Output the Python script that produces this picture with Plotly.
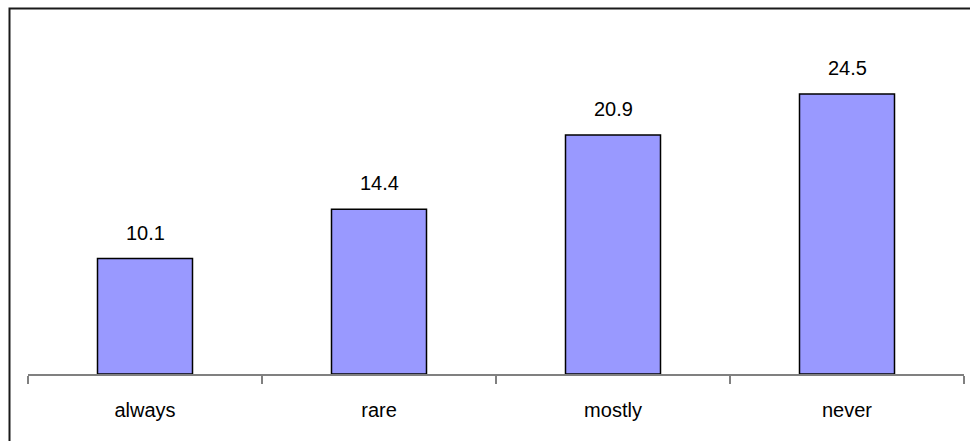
import plotly.graph_objects as go

categories = ["always", "rare", "mostly", "never"]
values = [10.1, 14.4, 20.9, 24.5]
value_labels = ["10.1", "14.4", "20.9", "24.5"]

W, H = 970, 441
ml, mr, mt, mb = 28, 6, 31, 67
FONT = "Liberation Sans, Arial, sans-serif"
FS = 20

fig = go.Figure()
fig.add_trace(go.Bar(
    x=categories, y=values,
    marker=dict(color="#9999FF", line=dict(color="#000000", width=1.5)),
    width=0.406,
    hoverinfo="skip",
))

for c, v, t in zip(categories, values, value_labels):
    fig.add_annotation(x=c, y=v, text=t, showarrow=False, yanchor="bottom",
                       yshift=13, font=dict(family=FONT, size=FS, color="#000000"))

# outer chart border (extends beyond image on right/bottom)
pw = W - ml - mr
ph = H - mt - mb
fig.add_shape(type="rect", xref="paper", yref="paper",
              x0=(9.5 - ml) / pw, x1=(W + 20 - ml) / pw,
              y0=-(H + 20 - (H - mb)) / ph, y1=1 + (mt - 8.5) / ph,
              line=dict(color="#1a1a1a", width=2), layer="above")

fig.update_layout(
    width=W, height=H,
    margin=dict(l=ml, r=mr, t=mt, b=mb, pad=0),
    plot_bgcolor="white", paper_bgcolor="white",
    showlegend=False,
    font=dict(family=FONT, size=FS, color="#000000"),
    xaxis=dict(
        type="category", range=[-0.5, 3.5], tickson="boundaries",
        showline=True, linecolor="#808080", linewidth=1.5,
        ticks="outside", ticklen=8, tickcolor="#808080", tickwidth=1.5,
        showgrid=False, zeroline=False, ticklabelstandoff=17,
        tickfont=dict(size=FS),
    ),
    yaxis=dict(range=[0, 30], visible=False, showgrid=False, zeroline=False),
)

fig.write_html("out.html", config={"displayModeBar": False, "staticPlot": True},
               post_script="document.body.style.margin='0';document.body.style.overflow='hidden';")
